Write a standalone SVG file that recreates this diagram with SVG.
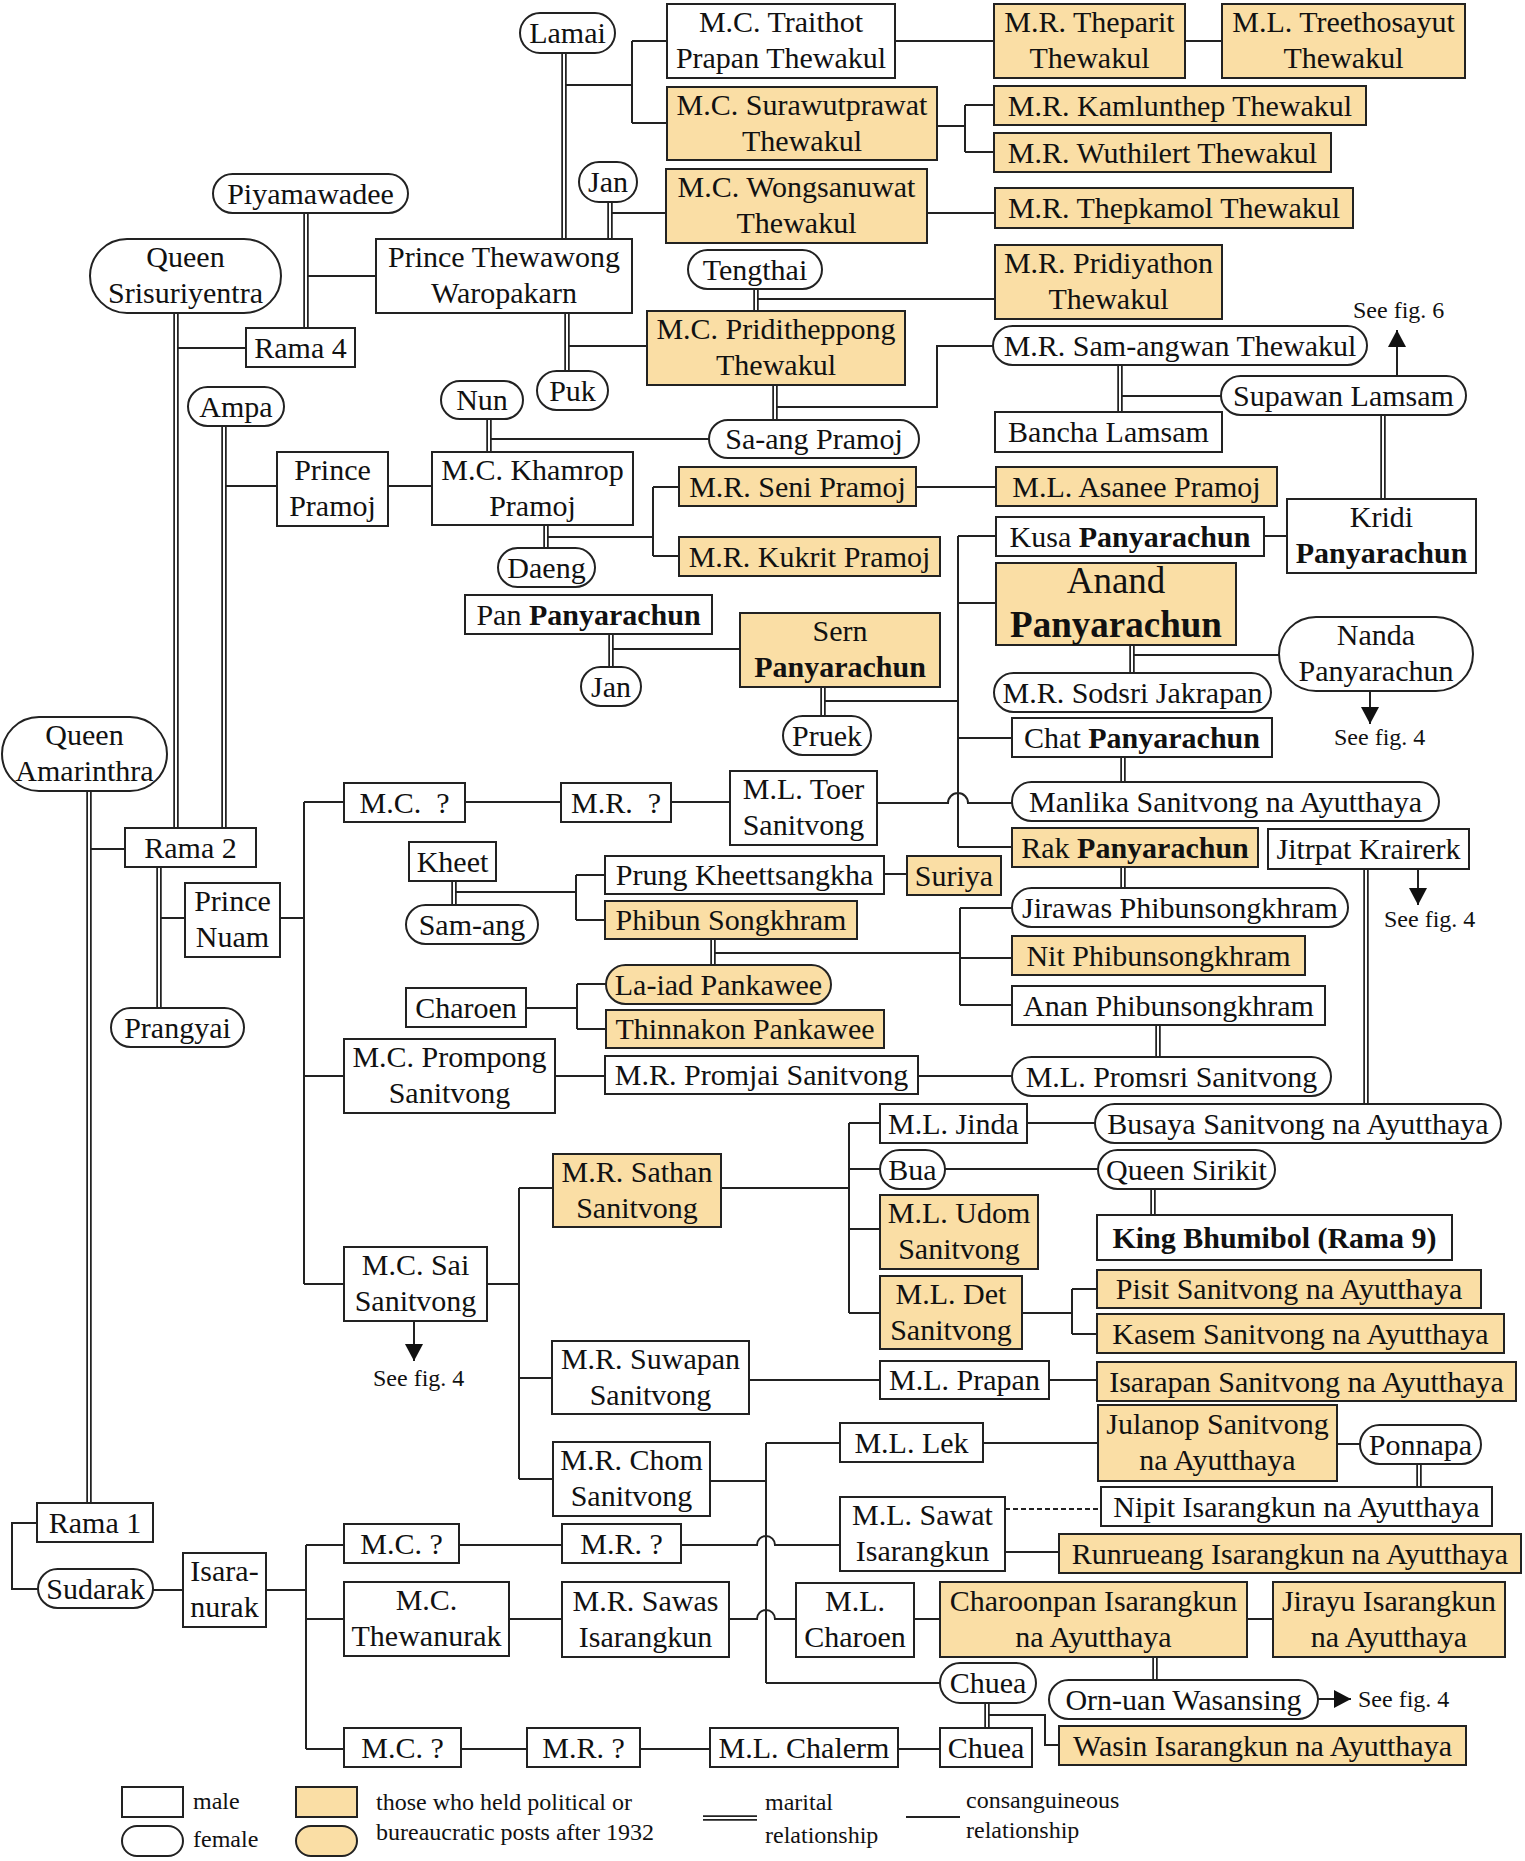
<svg xmlns="http://www.w3.org/2000/svg" xmlns:xlink="http://www.w3.org/1999/xlink" width="1525" height="1861" viewBox="0 0 1525 1861">
<style>
.n{fill:#fff;stroke:#222;stroke-width:2}
.o{fill:#FADEA5;stroke:#222;stroke-width:2}
text{font-family:"Liberation Serif","Times New Roman",serif;font-size:30px;fill:#111;text-anchor:middle}
.b{font-weight:bold}
.big{font-size:37px}
.c{fill:none;stroke:#222;stroke-width:2}
.d{fill:none;stroke:#222;stroke-width:2;stroke-dasharray:5 3}
.mo{fill:none;stroke:#222;stroke-width:5.5}
.mi{fill:none;stroke:#fff;stroke-width:2}
.l{font-size:24px;text-anchor:start}
</style>
<defs>
<marker id="arr" viewBox="0 0 17 18" refX="17" refY="9" markerWidth="17" markerHeight="18" orient="auto" markerUnits="userSpaceOnUse"><path d="M0 0 L17 9 L0 18 z" fill="#111"/></marker>
<path id="mar" d="M564 53V239 M610 202V239 M306 213V328 M176 313V828 M567 313V371 M756 289V311 M775 385V420 M1120 365V412 M1383 415V499 M224 426V828 M489 419V452 M546 525V548 M1132 645V673 M611 634V667 M823 687V716 M89 791V1503 M1123 757V782 M1123 867V888 M454 881V905 M159 867V1008 M713 939V965 M1158 1025V1057 M1366 869V1104 M1153 1189V1215 M1419 1464V1487 M1155 1657V1680 M987 1703V1728"/>
</defs>
<rect width="1525" height="1861" fill="#fff"/>
<g id="connectors">
<path class="c" d="M564 85H632 M632 41V123 M632 41H667 M632 123H667 M895 41H994 M1185 41H1222 M937 126H965 M965 105V152 M965 105H994 M965 152H994 M610 213H666 M927 213H995 M306 276H376 M176 348H246 M756 299H995 M567 346H647 M775 407H937V346H993 M1120 396H1221 M489 439H709 M224 486H277 M388 486H432 M546 537H653 M653 487V556 M653 487H679 M653 556H679 M916 487H996 M1264 536H1287 M958 536V847 M958 536H996 M958 603H996 M958 738H1012 M958 847H1012 M1132 655H1279 M611 649H740 M823 701H958 M89 849H125 M304 802V1284 M304 802H344 M465 802H561 M671 802H730 M877 803H948A10 10 0 0 1 968 803H1012 M280 918H304 M159 918H185 M454 892H576 M576 875V920 M576 875H605 M576 920H605 M884 874H907 M713 953H960 M960 908V1005 M960 908H1012 M960 958H1012 M960 1005H1012 M526 1008H577 M577 984V1029 M577 984H606 M577 1029H606 M304 1076H344 M555 1076H605 M918 1076H1012 M304 1284H344 M487 1284H519 M519 1188V1479 M519 1188H553 M519 1378H552 M519 1479H553 M721 1188H849 M849 1123V1313 M849 1123H880 M849 1169H880 M849 1229H880 M849 1313H880 M1027 1123H1095 M945 1169H1098 M1022 1313H1072 M1072 1289V1334 M1072 1289H1097 M1072 1334H1097 M749 1380H880 M1049 1380H1097 M710 1481H766 M766 1443V1683 M766 1443H840 M681 1545H757A9 9 0 0 1 775 1545H840 M729 1619H757A9 9 0 0 1 775 1619H796 M766 1683H940 M983 1443H1098 M1337 1444H1360 M1005 1552H1059 M914 1619H940 M1247 1619H1273 M987 1715H1045V1745H1059 M37 1523H12V1589H38 M153 1590H183 M266 1590H306 M306 1545V1749 M306 1545H344 M306 1619H344 M306 1749H344 M459 1545H562 M509 1619H562 M461 1749H527 M640 1749H710 M898 1749H940"/>
<path class="d" d="M1005 1509H1101"/>
<use xlink:href="#mar" class="mo"/>
<use xlink:href="#mar" class="mi"/>
<path class="c" marker-end="url(#arr)" d="M1397 376V330"/>
<path class="c" marker-end="url(#arr)" d="M1370 691V724"/>
<path class="c" marker-end="url(#arr)" d="M1418 869V905"/>
<path class="c" marker-end="url(#arr)" d="M414 1321V1361"/>
<path class="c" marker-end="url(#arr)" d="M1318 1699H1351"/>
</g>
<g id="notes">
<text class="l" x="1353" y="318">See fig. 6</text>
<text class="l" x="1334" y="745">See fig. 4</text>
<text class="l" x="1384" y="927">See fig. 4</text>
<text class="l" x="373" y="1386">See fig. 4</text>
<text class="l" x="1358" y="1707">See fig. 4</text>
</g>
<g id="lamai"><rect class="n" x="520" y="13" width="95" height="40" rx="20"/><text x="567.5" y="43">Lamai</text></g>
<g id="traithot"><rect class="n" x="667" y="4" width="228" height="74"/><text x="781" y="32">M.C. Traithot</text><text x="781" y="68">Prapan Thewakul</text></g>
<g id="theparit"><rect class="o" x="994" y="4" width="191" height="74"/><text x="1089.5" y="32">M.R. Theparit</text><text x="1089.5" y="68">Thewakul</text></g>
<g id="treethosayut"><rect class="o" x="1222" y="4" width="243" height="74"/><text x="1343.5" y="32">M.L. Treethosayut</text><text x="1343.5" y="68">Thewakul</text></g>
<g id="surawut"><rect class="o" x="667" y="87" width="270" height="73"/><text x="802" y="114.5">M.C. Surawutprawat</text><text x="802" y="150.5">Thewakul</text></g>
<g id="kamlunthep"><rect class="o" x="994" y="86" width="372" height="39"/><text x="1180" y="115.5">M.R. Kamlunthep Thewakul</text></g>
<g id="wuthilert"><rect class="o" x="994" y="133" width="337" height="39"/><text x="1162.5" y="162.5">M.R. Wuthilert Thewakul</text></g>
<g id="jan1"><rect class="n" x="579" y="162" width="58" height="40" rx="20"/><text x="608" y="192">Jan</text></g>
<g id="wongsanuwat"><rect class="o" x="666" y="169" width="261" height="74"/><text x="796.5" y="197">M.C. Wongsanuwat</text><text x="796.5" y="233">Thewakul</text></g>
<g id="thepkamol"><rect class="o" x="995" y="188" width="358" height="40"/><text x="1174" y="218">M.R. Thepkamol Thewakul</text></g>
<g id="piyamawadee"><rect class="n" x="213" y="174" width="195" height="39" rx="19.5"/><text x="310.5" y="203.5">Piyamawadee</text></g>
<g id="srisuriyentra"><rect class="n" x="90" y="239" width="191" height="74" rx="37"/><text x="185.5" y="267">Queen</text><text x="185.5" y="303">Srisuriyentra</text></g>
<g id="thewawong"><rect class="n" x="376" y="239" width="256" height="74"/><text x="504" y="267">Prince Thewawong</text><text x="504" y="303">Waropakarn</text></g>
<g id="tengthai"><rect class="n" x="688" y="250" width="134" height="39" rx="19.5"/><text x="755" y="279.5">Tengthai</text></g>
<g id="pridiyathon"><rect class="o" x="995" y="245" width="227" height="74"/><text x="1108.5" y="273">M.R. Pridiyathon</text><text x="1108.5" y="309">Thewakul</text></g>
<g id="priditheppong"><rect class="o" x="647" y="311" width="258" height="74"/><text x="776" y="339">M.C. Priditheppong</text><text x="776" y="375">Thewakul</text></g>
<g id="rama4"><rect class="n" x="246" y="328" width="109" height="39"/><text x="300.5" y="357.5">Rama 4</text></g>
<g id="samangwan"><rect class="n" x="993" y="326" width="374" height="39" rx="19.5"/><text x="1180" y="355.5">M.R. Sam-angwan Thewakul</text></g>
<g id="supawan"><rect class="n" x="1221" y="376" width="245" height="39" rx="19.5"/><text x="1343.5" y="405.5">Supawan Lamsam</text></g>
<g id="bancha"><rect class="n" x="995" y="412" width="227" height="40"/><text x="1108.5" y="442">Bancha Lamsam</text></g>
<g id="ampa"><rect class="n" x="188" y="387" width="96" height="39" rx="19.5"/><text x="236" y="416.5">Ampa</text></g>
<g id="nun"><rect class="n" x="441" y="381" width="82" height="38" rx="19"/><text x="482" y="410">Nun</text></g>
<g id="puk"><rect class="n" x="537" y="371" width="71" height="39" rx="19.5"/><text x="572.5" y="400.5">Puk</text></g>
<g id="saang"><rect class="n" x="709" y="420" width="210" height="38" rx="19"/><text x="814" y="449">Sa-ang Pramoj</text></g>
<g id="princepramoj"><rect class="n" x="277" y="452" width="111" height="74"/><text x="332.5" y="480">Prince</text><text x="332.5" y="516">Pramoj</text></g>
<g id="khamrop"><rect class="n" x="432" y="452" width="201" height="73"/><text x="532.5" y="479.5">M.C. Khamrop</text><text x="532.5" y="515.5">Pramoj</text></g>
<g id="seni"><rect class="o" x="679" y="467" width="237" height="39"/><text x="797.5" y="496.5">M.R. Seni Pramoj</text></g>
<g id="asanee"><rect class="o" x="996" y="467" width="281" height="39"/><text x="1136.5" y="496.5">M.L. Asanee Pramoj</text></g>
<g id="kridi"><rect class="n" x="1287" y="499" width="189" height="74"/><text x="1381.5" y="527">Kridi</text><text x="1381.5" y="563" class="b">Panyarachun</text></g>
<g id="kusa"><rect class="n" x="996" y="517" width="268" height="39"/><text x="1130" y="546.5">Kusa <tspan class="b">Panyarachun</tspan></text></g>
<g id="kukrit"><rect class="o" x="679" y="537" width="261" height="39"/><text x="809.5" y="566.5">M.R. Kukrit Pramoj</text></g>
<g id="daeng"><rect class="n" x="498" y="548" width="97" height="39" rx="19.5"/><text x="546.5" y="577.5">Daeng</text></g>
<g id="anand"><rect class="o" x="996" y="563" width="240" height="82"/><text class="big" x="1116" y="593">Anand</text><text class="big b" x="1116" y="637">Panyarachun</text></g>
<g id="pan"><rect class="n" x="465" y="595" width="247" height="39"/><text x="588.5" y="624.5">Pan <tspan class="b">Panyarachun</tspan></text></g>
<g id="sern"><rect class="o" x="740" y="613" width="200" height="74"/><text x="840" y="641">Sern</text><text x="840" y="677" class="b">Panyarachun</text></g>
<g id="nanda"><rect class="n" x="1279" y="617" width="194" height="74" rx="37"/><text x="1376" y="645">Nanda</text><text x="1376" y="681">Panyarachun</text></g>
<g id="jan2"><rect class="n" x="581" y="667" width="60" height="39" rx="19.5"/><text x="611" y="696.5">Jan</text></g>
<g id="sodsri"><rect class="n" x="994" y="673" width="277" height="39" rx="19.5"/><text x="1132.5" y="702.5">M.R. Sodsri Jakrapan</text></g>
<g id="pruek"><rect class="n" x="783" y="716" width="88" height="39" rx="19.5"/><text x="827" y="745.5">Pruek</text></g>
<g id="chat"><rect class="n" x="1012" y="718" width="260" height="39"/><text x="1142" y="747.5">Chat <tspan class="b">Panyarachun</tspan></text></g>
<g id="amarinthra"><rect class="n" x="2" y="717" width="165" height="74" rx="37"/><text x="84.5" y="745">Queen</text><text x="84.5" y="781">Amarinthra</text></g>
<g id="mc1"><rect class="n" x="344" y="783" width="121" height="39"/><text x="404.5" y="812.5">M.C.&#160; ?</text></g>
<g id="mr1"><rect class="n" x="561" y="783" width="110" height="39"/><text x="616" y="812.5">M.R.&#160; ?</text></g>
<g id="toer"><rect class="n" x="730" y="771" width="147" height="74"/><text x="803.5" y="799">M.L. Toer</text><text x="803.5" y="835">Sanitvong</text></g>
<g id="manlika"><rect class="n" x="1012" y="782" width="427" height="39" rx="19.5"/><text x="1225.5" y="811.5">Manlika Sanitvong na Ayutthaya</text></g>
<g id="rama2"><rect class="n" x="125" y="828" width="131" height="39"/><text x="190.5" y="857.5">Rama 2</text></g>
<g id="rak"><rect class="o" x="1012" y="828" width="246" height="39"/><text x="1135" y="857.5">Rak <tspan class="b">Panyarachun</tspan></text></g>
<g id="jitrpat"><rect class="n" x="1268" y="829" width="201" height="40"/><text x="1368.5" y="859">Jitrpat Krairerk</text></g>
<g id="kheet"><rect class="n" x="409" y="842" width="87" height="39"/><text x="452.5" y="871.5">Kheet</text></g>
<g id="prung"><rect class="n" x="605" y="856" width="279" height="38"/><text x="744.5" y="885">Prung Kheettsangkha</text></g>
<g id="suriya"><rect class="o" x="907" y="856" width="94" height="39"/><text x="954" y="885.5">Suriya</text></g>
<g id="princenuam"><rect class="n" x="185" y="883" width="95" height="74"/><text x="232.5" y="911">Prince</text><text x="232.5" y="947">Nuam</text></g>
<g id="jirawas"><rect class="n" x="1012" y="888" width="336" height="39" rx="19.5"/><text x="1180" y="917.5">Jirawas Phibunsongkhram</text></g>
<g id="phibun"><rect class="o" x="605" y="901" width="252" height="38"/><text x="731" y="930">Phibun Songkhram</text></g>
<g id="samang"><rect class="n" x="406" y="905" width="132" height="39" rx="19.5"/><text x="472" y="934.5">Sam-ang</text></g>
<g id="nit"><rect class="o" x="1012" y="936" width="293" height="39"/><text x="1158.5" y="965.5">Nit Phibunsongkhram</text></g>
<g id="laiad"><rect class="o" x="606" y="965" width="225" height="39" rx="19.5"/><text x="718.5" y="994.5">La-iad Pankawee</text></g>
<g id="anan"><rect class="n" x="1012" y="986" width="313" height="39"/><text x="1168.5" y="1015.5">Anan Phibunsongkhram</text></g>
<g id="charoen1"><rect class="n" x="406" y="988" width="120" height="39"/><text x="466" y="1017.5">Charoen</text></g>
<g id="prangyai"><rect class="n" x="111" y="1008" width="133" height="39" rx="19.5"/><text x="177.5" y="1037.5">Prangyai</text></g>
<g id="thinnakon"><rect class="o" x="606" y="1010" width="278" height="38"/><text x="745" y="1039">Thinnakon Pankawee</text></g>
<g id="prompong"><rect class="n" x="344" y="1039" width="211" height="74"/><text x="449.5" y="1067">M.C. Prompong</text><text x="449.5" y="1103">Sanitvong</text></g>
<g id="promjai"><rect class="n" x="605" y="1056" width="313" height="38"/><text x="761.5" y="1085">M.R. Promjai Sanitvong</text></g>
<g id="promsri"><rect class="n" x="1012" y="1057" width="319" height="39" rx="19.5"/><text x="1171.5" y="1086.5">M.L. Promsri Sanitvong</text></g>
<g id="jinda"><rect class="n" x="880" y="1104" width="147" height="39"/><text x="953.5" y="1133.5">M.L. Jinda</text></g>
<g id="busaya"><rect class="n" x="1095" y="1104" width="406" height="39" rx="19.5"/><text x="1298" y="1133.5">Busaya Sanitvong na Ayutthaya</text></g>
<g id="bua"><rect class="n" x="880" y="1150" width="65" height="39" rx="19.5"/><text x="912.5" y="1179.5">Bua</text></g>
<g id="sirikit"><rect class="n" x="1098" y="1150" width="177" height="39" rx="19.5"/><text x="1186.5" y="1179.5">Queen Sirikit</text></g>
<g id="sathan"><rect class="o" x="553" y="1154" width="168" height="73"/><text x="637" y="1181.5">M.R. Sathan</text><text x="637" y="1217.5">Sanitvong</text></g>
<g id="udom"><rect class="o" x="880" y="1195" width="158" height="74"/><text x="959" y="1223">M.L. Udom</text><text x="959" y="1259">Sanitvong</text></g>
<g id="king"><rect class="n" x="1097" y="1215" width="355" height="45"/><text x="1274.5" y="1247.5" class="b">King Bhumibol (Rama 9)</text></g>
<g id="sai"><rect class="n" x="344" y="1247" width="143" height="74"/><text x="415.5" y="1275">M.C. Sai</text><text x="415.5" y="1311">Sanitvong</text></g>
<g id="det"><rect class="o" x="880" y="1276" width="142" height="73"/><text x="951" y="1303.5">M.L. Det</text><text x="951" y="1339.5">Sanitvong</text></g>
<g id="pisit"><rect class="o" x="1097" y="1270" width="384" height="38"/><text x="1289" y="1299">Pisit Sanitvong na Ayutthaya</text></g>
<g id="kasem"><rect class="o" x="1097" y="1314" width="407" height="39"/><text x="1300.5" y="1343.5">Kasem Sanitvong na Ayutthaya</text></g>
<g id="suwapan"><rect class="n" x="552" y="1341" width="197" height="73"/><text x="650.5" y="1368.5">M.R. Suwapan</text><text x="650.5" y="1404.5">Sanitvong</text></g>
<g id="prapan"><rect class="n" x="880" y="1361" width="169" height="38"/><text x="964.5" y="1390">M.L. Prapan</text></g>
<g id="isarapan"><rect class="o" x="1097" y="1362" width="419" height="39"/><text x="1306.5" y="1391.5">Isarapan Sanitvong na Ayutthaya</text></g>
<g id="julanop"><rect class="o" x="1098" y="1405" width="239" height="76"/><text x="1217.5" y="1434">Julanop Sanitvong</text><text x="1217.5" y="1470">na Ayutthaya</text></g>
<g id="ponnapa"><rect class="n" x="1360" y="1425" width="121" height="39" rx="19.5"/><text x="1420.5" y="1454.5">Ponnapa</text></g>
<g id="lek"><rect class="n" x="840" y="1423" width="143" height="39"/><text x="911.5" y="1452.5">M.L. Lek</text></g>
<g id="chom"><rect class="n" x="553" y="1442" width="157" height="74"/><text x="631.5" y="1470">M.R. Chom</text><text x="631.5" y="1506">Sanitvong</text></g>
<g id="nipit"><rect class="n" x="1101" y="1487" width="391" height="39"/><text x="1296.5" y="1516.5">Nipit Isarangkun na Ayutthaya</text></g>
<g id="sawat"><rect class="n" x="840" y="1497" width="165" height="74"/><text x="922.5" y="1525">M.L. Sawat</text><text x="922.5" y="1561">Isarangkun</text></g>
<g id="rama1"><rect class="n" x="37" y="1503" width="116" height="39"/><text x="95" y="1532.5">Rama 1</text></g>
<g id="mc2"><rect class="n" x="344" y="1524" width="115" height="39"/><text x="401.5" y="1553.5">M.C. ?</text></g>
<g id="mr2"><rect class="n" x="562" y="1524" width="119" height="39"/><text x="621.5" y="1553.5">M.R. ?</text></g>
<g id="runrueang"><rect class="o" x="1059" y="1534" width="462" height="39"/><text x="1290" y="1563.5">Runrueang Isarangkun na Ayutthaya</text></g>
<g id="isaranurak"><rect class="n" x="183" y="1553" width="83" height="74"/><text x="224.5" y="1581">Isara-</text><text x="224.5" y="1617">nurak</text></g>
<g id="sudarak"><rect class="n" x="38" y="1569" width="115" height="39" rx="19.5"/><text x="95.5" y="1598.5">Sudarak</text></g>
<g id="thewanurak"><rect class="n" x="344" y="1582" width="165" height="74"/><text x="426.5" y="1610">M.C.</text><text x="426.5" y="1646">Thewanurak</text></g>
<g id="sawas"><rect class="n" x="562" y="1582" width="167" height="75"/><text x="645.5" y="1610.5">M.R. Sawas</text><text x="645.5" y="1646.5">Isarangkun</text></g>
<g id="charoen2"><rect class="n" x="796" y="1583" width="118" height="74"/><text x="855" y="1611">M.L.</text><text x="855" y="1647">Charoen</text></g>
<g id="charoonpan"><rect class="o" x="940" y="1582" width="307" height="75"/><text x="1093.5" y="1610.5">Charoonpan Isarangkun</text><text x="1093.5" y="1646.5">na Ayutthaya</text></g>
<g id="jirayu"><rect class="o" x="1273" y="1582" width="232" height="75"/><text x="1389" y="1610.5">Jirayu Isarangkun</text><text x="1389" y="1646.5">na Ayutthaya</text></g>
<g id="chuea1"><rect class="n" x="940" y="1663" width="96" height="40" rx="20"/><text x="988" y="1693">Chuea</text></g>
<g id="ornuan"><rect class="n" x="1049" y="1680" width="269" height="39" rx="19.5"/><text x="1183.5" y="1709.5">Orn-uan Wasansing</text></g>
<g id="mc3"><rect class="n" x="344" y="1728" width="117" height="39"/><text x="402.5" y="1757.5">M.C. ?</text></g>
<g id="mr3"><rect class="n" x="527" y="1728" width="113" height="39"/><text x="583.5" y="1757.5">M.R. ?</text></g>
<g id="chalerm"><rect class="n" x="710" y="1728" width="188" height="39"/><text x="804" y="1757.5">M.L. Chalerm</text></g>
<g id="chuea2"><rect class="n" x="940" y="1728" width="92" height="39"/><text x="986" y="1757.5">Chuea</text></g>
<g id="wasin"><rect class="o" x="1059" y="1726" width="407" height="39"/><text x="1262.5" y="1755.5">Wasin Isarangkun na Ayutthaya</text></g>
<g id="legend">
<rect class="n" x="122" y="1787" width="61" height="30"/>
<rect class="n" x="122" y="1826" width="61" height="30" rx="15"/>
<rect class="o" x="296" y="1787" width="61" height="30"/>
<rect class="o" x="296" y="1826" width="61" height="30" rx="15"/>
<text class="l" x="193" y="1809">male</text>
<text class="l" x="193" y="1847">female</text>
<text class="l" x="376" y="1810">those who held political or</text>
<text class="l" x="376" y="1840">bureaucratic posts after 1932</text>
<path class="mo" d="M703 1818H757"/><path class="mi" d="M703 1818H757"/>
<text class="l" x="765" y="1810">marital</text>
<text class="l" x="765" y="1843">relationship</text>
<path class="c" d="M906 1817H960"/>
<text class="l" x="966" y="1808">consanguineous</text>
<text class="l" x="966" y="1838">relationship</text>
</g>
</svg>
